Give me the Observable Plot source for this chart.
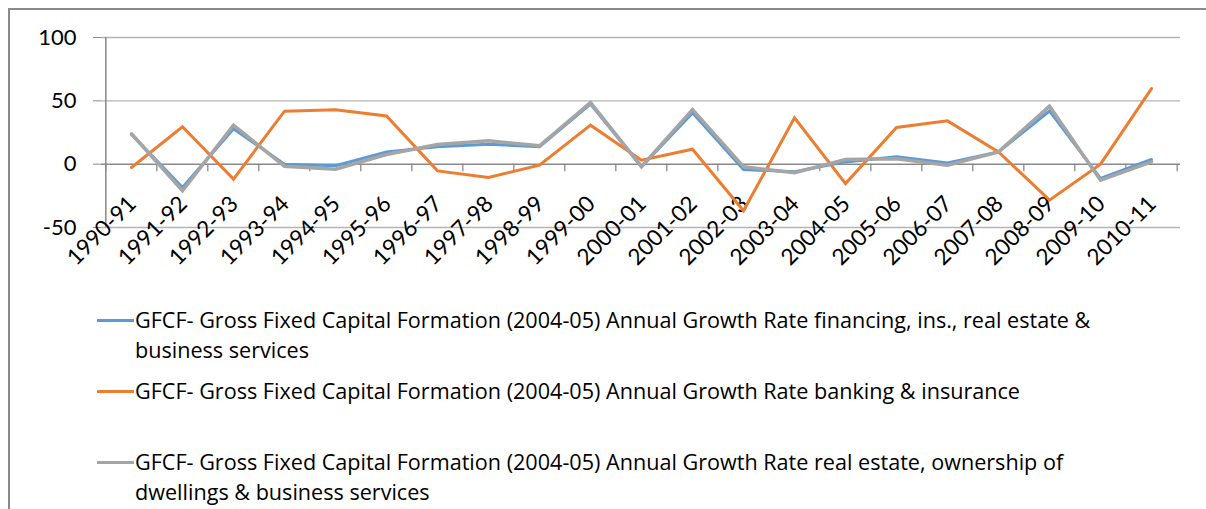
<!DOCTYPE html>
<html>
<head>
<meta charset="utf-8">
<script src="https://cdn.jsdelivr.net/npm/d3@7"></script>
<script src="https://cdn.jsdelivr.net/npm/@observablehq/plot@0.6"></script>
<style>
  html, body { margin: 0; padding: 0; background: #fff; overflow: hidden; width: 1206px; height: 509px; }
  #wrap { position: relative; width: 1206px; height: 509px; font-family: Lato, "Open Sans", sans-serif; }
  #border { position: absolute; left: 8px; top: 8px; width: 1400px; height: 800px; border: 2px solid #8a8a8a; box-sizing: border-box; }
  #chart { position: absolute; left: 0; top: 0; }
  .lg-line { position: absolute; left: 97px; width: 37px; height: 3px; }
  .lg-text { position: absolute; left: 135px; font-family: "Open Sans", sans-serif; font-size: 21.6px; line-height: 30px; color: #000; white-space: nowrap; }
</style>
</head>
<body>
<div id="wrap">
  <div id="border"></div>
  <div id="chart"></div>
  <div id="legend"></div>
</div>
<script>
const categories = ["1990-91","1991-92","1992-93","1993-94","1994-95","1995-96","1996-97","1997-98","1998-99","1999-00","2000-01","2001-02","2002-03","2003-04","2004-05","2005-06","2006-07","2007-08","2008-09","2009-10","2010-11"];
const financing = [23.5, -18.5, 28, 0, -1.3, 9.7, 13.7, 15.8, 13.7, 47.5, -2, 40.5, -4.2, -6, 1.8, 5.8, 1, 9.7, 42, -11.3, 3.7];
const banking = [-2.6, 29.5, -11.8, 41.8, 43, 38, -5.3, -10.5, -0.8, 30.8, 3.2, 11.8, -36.8, 36.6, -15.3, 29, 34.2, 9.7, -28.4, 0, 59.7];
const realEstate = [24, -21, 30.8, -1.6, -4, 7.6, 15.5, 18.4, 14.5, 48.6, -2, 43, -2, -6.8, 3.7, 4.2, -0.8, 9.7, 45.8, -12.6, 1.8];
const yTicks = [-50, 0, 50, 100];
const seriesNames = [
  "GFCF- Gross Fixed Capital Formation (2004-05) Annual Growth Rate financing, ins., real estate &\nbusiness services",
  "GFCF- Gross Fixed Capital Formation (2004-05) Annual Growth Rate banking & insurance",
  "GFCF- Gross Fixed Capital Formation (2004-05) Annual Growth Rate real estate, ownership of\ndwellings & business services"
];
const seriesColors = ["#5B9BD5", "#ED7D31", "#A5A5A5"];
const seriesValues = [financing, banking, realEstate];

const W = 1206, H = 290, ML = 101, MR = 26, MT = 37, MB = 63;
const step = (W - ML - MR) / categories.length;
const axisColor = "#898989";
const gridColor = "#b4b4b4";

const rows = [];
seriesValues.forEach((vals, si) => vals.forEach((v, i) => rows.push({series: si, cat: categories[i], value: v})));

const chart = Plot.plot({
  width: W, height: H,
  marginLeft: ML, marginRight: MR, marginTop: MT, marginBottom: MB,
  style: {fontFamily: "Lato, 'Open Sans', sans-serif", fontSize: "22px", background: "transparent", color: "#000"},
  x: {type: "point", domain: categories, padding: 0.5, axis: null},
  y: {domain: [-50, 100], axis: null},
  marks: [
    Plot.ruleY(yTicks.filter(d => d !== 0), {stroke: gridColor, strokeWidth: 1.3}),
    Plot.axisY({ticks: yTicks, label: null, tickSize: 8, tickPadding: 17, stroke: axisColor, fill: "#000", fontSize: 22, tickFormat: d => String(d)}),
    Plot.ruleX([categories[0]], {x: d => d, dx: -step / 2, stroke: axisColor, strokeWidth: 1.5}),
    Plot.ruleY([0], {stroke: axisColor, strokeWidth: 1.5}),
    Plot.ruleX(categories, {x: d => d, y1: 0, y2: -6, dx: -step / 2, stroke: axisColor, strokeWidth: 1.3}),
    Plot.ruleX([categories[categories.length - 1]], {x: d => d, y1: 0, y2: -6, dx: step / 2, stroke: axisColor, strokeWidth: 1.3}),
    Plot.text(categories, {x: d => d, y: d => 0, text: d => d, rotate: -45, textAnchor: "end", dx: 1, dy: 36, fontSize: 22.5, fill: "#000"}),
    ...seriesValues.map((vals, si) => Plot.line(rows.filter(r => r.series === si), {
      x: "cat", y: "value", stroke: seriesColors[si], strokeWidth: si === 2 ? 3.5 : 3, strokeLinejoin: "miter", strokeMiterlimit: 4
    }))
  ]
});
document.getElementById("chart").appendChild(chart);

const legend = document.getElementById("legend");
const lineTops = [319, 390, 461];
seriesNames.forEach((name, i) => {
  const ln = document.createElement("div");
  ln.className = "lg-line";
  ln.style.top = lineTops[i] + "px";
  ln.style.background = seriesColors[i];
  legend.appendChild(ln);
  const tx = document.createElement("div");
  tx.className = "lg-text";
  tx.style.top = (lineTops[i] + 1 - 15) + "px";
  tx.innerHTML = name.split("\n").map(s => s.replace(/&/g, "&amp;")).join("<br>");
  legend.appendChild(tx);
});
</script>
</body>
</html>
